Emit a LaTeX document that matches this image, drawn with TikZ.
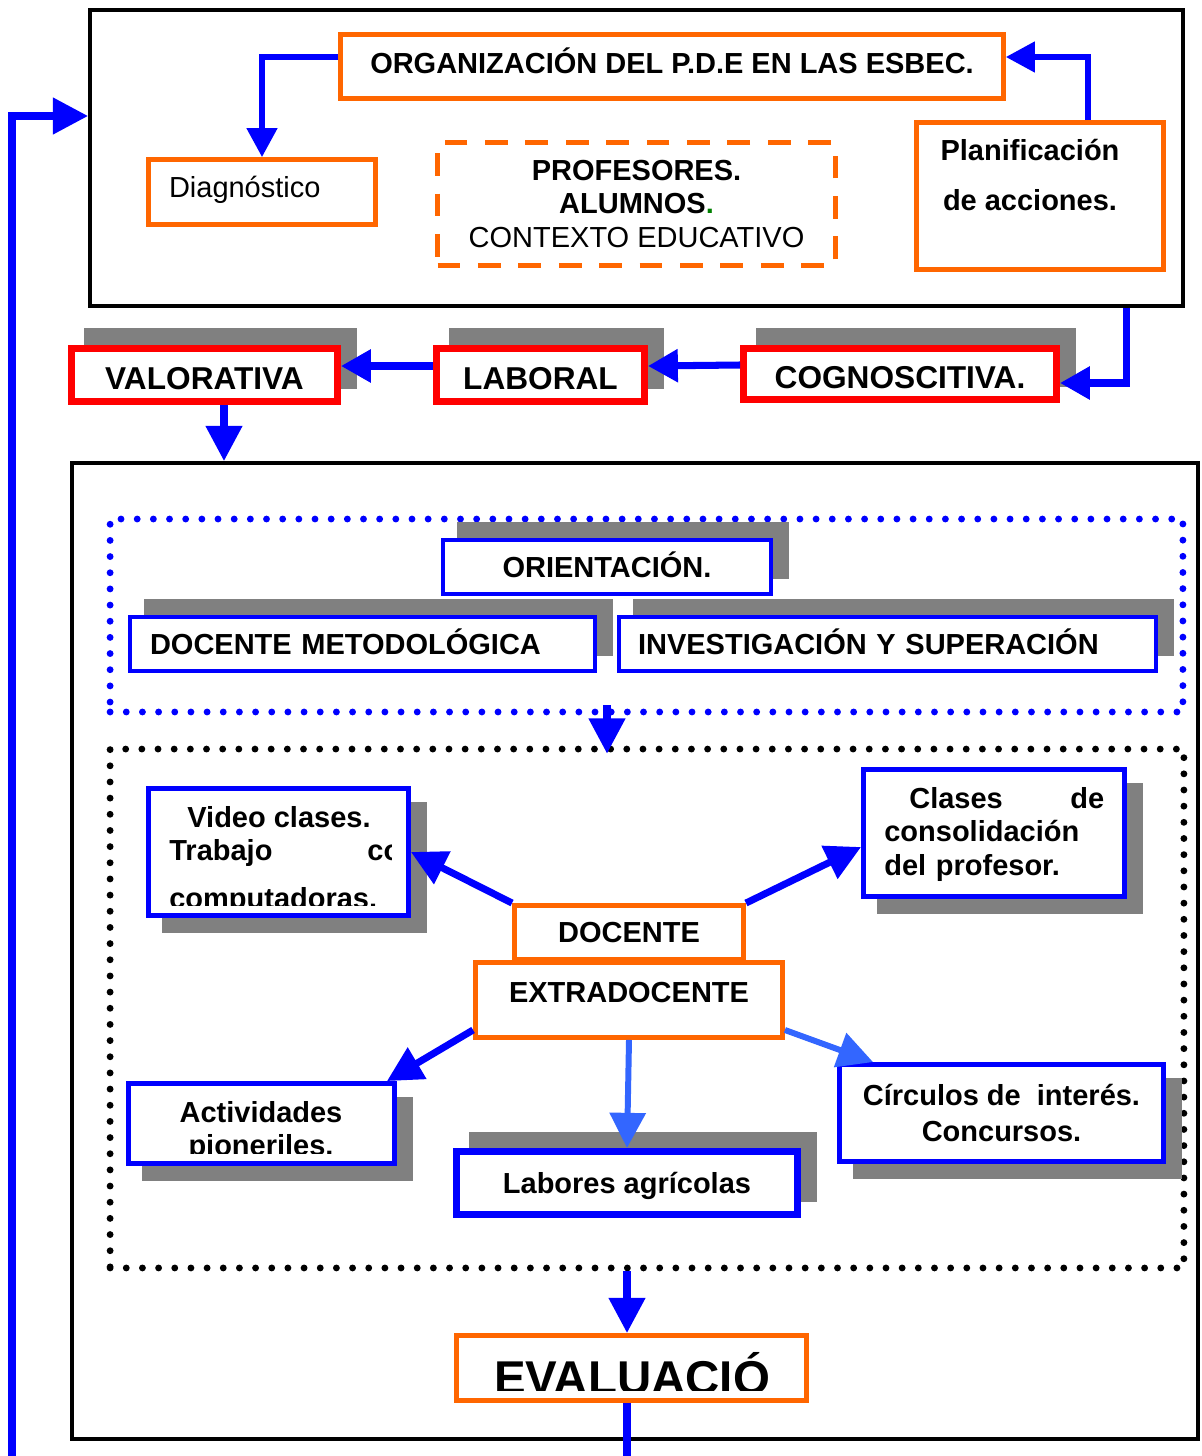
\documentclass[tikz,border=0pt]{standalone}
\usepackage{fontspec}
\setmainfont{Liberation Sans}
\usetikzlibrary{positioning, shadows, arrows.meta}
\newcommand{\naranja}{red!60!yellow}
\definecolor{azulclaro}{HTML}{3366FF}
\newcommand{\letra}{\fontsize{16.5}{19}\selectfont}
\tikzset{
	marco/.style={draw=black, line width=2.3pt, inner sep=0pt},
	sombra arriba/.style={drop shadow={shadow xshift=0.32cm, shadow yshift=0.33cm, opacity=1, fill=gray, draw=gray}},
	sombra abajo/.style={drop shadow={shadow xshift=0.32cm, shadow yshift=-0.31cm, opacity=1, fill=gray, draw=gray}},
	caja naranja/.style={draw=\naranja, line width=2.8pt, fill=white, inner sep=0pt, font=\letra\bfseries, text height=11.8pt, text depth=0pt},
	caja roja/.style={draw=red, line width=4pt, fill=white, inner sep=0pt, font=\fontsize{18}{21}\selectfont\bfseries, text height=16.9pt, text depth=0pt, sombra arriba},
	caja azul/.style={draw=blue, line width=2pt, fill=white, inner sep=0pt, font=\letra\bfseries, text height=11.8pt, text depth=0pt, sombra arriba},
	caja abajo/.style={draw=blue, line width=2.8pt, fill=white, inner sep=0pt, font=\letra\bfseries, sombra abajo},
	punteado/.style={line width=3.9pt, line cap=round, dash pattern=on 0pt off 9.2pt, inner sep=0pt},
	texto/.style={inner sep=0pt, font=\letra\bfseries},
	flecha/.style={draw=blue, line width=4pt, -{Triangle[length=20pt, width=20pt]}},
	flechita/.style={draw=blue, line width=3pt, -{Triangle[length=16.5pt, width=17pt]}},
}

\begin{document}
\begin{tikzpicture}[x=0.02cm, y=-0.02cm, font=\letra]
	\useasboundingbox (0,0) rectangle (1202,1456);
	
	% bloque de organizacion
	\node[marco, minimum width=21.86cm, minimum height=5.92cm] (arriba) at (636.5,158) {};
	\node[caja naranja, minimum width=13.26cm, minimum height=1.28cm, text depth=4pt] (org) at (672,66.5) {ORGANIZACIÓN DEL P.D.E EN LAS ESBEC.};
	\node[caja naranja, minimum width=4.54cm, minimum height=1.3cm, text width=3.72cm, align=left, font=\letra, text depth=5pt] (diag) at (262,192) {Diagnóstico};
	\node[draw=\naranja, line width=2.8pt, dash pattern=on 13pt off 10pt, inner sep=0pt, minimum width=7.96cm, minimum height=2.46cm, align=center, font=\letra\bfseries] (actores) at (636.5,204) {PROFESORES.\\ALUMNOS\textcolor{green!50!black}{.}\\{\mdseries CONTEXTO EDUCATIVO}};
	\node[caja naranja, minimum width=4.94cm, minimum height=2.94cm] (plan) at (1040,196) {};
	\node[texto, align=center, font=\fontsize{16.5}{29}\selectfont\bfseries] (plantxt) at (1030,175) {Planificación\\de acciones.};
	
	% dimensiones
	\node[caja roja, minimum width=5.32cm, minimum height=1.06cm] (valorativa) at (204.5,375) {VALORATIVA};
	\node[caja roja, minimum width=4.16cm, minimum height=1.06cm] (laboral) at (540.5,375) {LABORAL};
	\node[caja roja, minimum width=6.26cm, minimum height=1.02cm] (cognoscitiva) at (900,374) {COGNOSCITIVA.};
	
	% bloque inferior
	\node[marco, minimum width=22.52cm, minimum height=19.52cm] (abajo) at (635,951) {};
	\node[punteado, draw=blue, minimum width=21.46cm, minimum height=3.86cm] (grupo) at (646.5,615.5) {};
	\node[caja azul, minimum width=6.56cm, minimum height=1.08cm] (orientacion) at (607,567) {ORIENTACIÓN.};
	\node[caja azul, minimum width=9.3cm, minimum height=1.08cm, text width=8.5cm, align=left] (metodologica) at (362.5,644) {DOCENTE METODOLÓGICA};
	\node[caja azul, minimum width=10.74cm, minimum height=1.08cm, text width=9.98cm, align=left] (investigacion) at (887.5,644) {INVESTIGACIÓN Y SUPERACIÓN};
	
	\node[punteado, draw=black, minimum width=21.48cm, minimum height=10.38cm] (actividades) at (647,1008.5) {};
	\node[caja abajo, minimum width=5.2cm, minimum height=2.54cm] (video) at (278.5,852) {};
	\node[caja abajo, minimum width=5.22cm, minimum height=2.54cm] (clases) at (994,833) {};
	\node[texto, anchor=north west, text width=4.4cm, align=left] (clasestxt) at (884,787) {\hspace*{0.5cm}Clases\hfill de\\consolidación\\del profesor.};
	\node[caja naranja, minimum width=4.58cm, minimum height=1.08cm] (docente) at (629,932.5) {DOCENTE};
	\node[caja naranja, minimum width=6.14cm, minimum height=1.5cm, text depth=8.5pt] (extradocente) at (629,1000) {EXTRADOCENTE};
	\node[caja abajo, minimum width=5.32cm, minimum height=1.6cm] (pioneriles) at (261.5,1123.5) {};
	\node[caja azul, line width=4pt, minimum width=6.82cm, minimum height=1.26cm] (labores) at (627,1183) {Labores agrícolas};
	\node[caja abajo, minimum width=6.48cm, minimum height=1.94cm, align=center, font=\fontsize{16.5}{20}\selectfont\bfseries] (circulos) at (1001.5,1113) {Círculos de\ \ interés.\\Concursos.};
	\node[caja naranja, minimum width=7cm, minimum height=1.3cm] (evaluacion) at (631.5,1368) {};
	
	% textos cortados
	\begin{scope}
		\clip (150,790) rectangle (391,905);
		\node[texto, anchor=base] (videotxt) at (279,827) {Video clases.};
		\node[texto, anchor=base west] (trabajotxt) at (169,860) {Trabajo\hspace{1.9cm}con};
		\node[texto, anchor=base west] (compatxt) at (169,908) {computadoras.};
	\end{scope}
	\begin{scope}
		\clip (130,1085) rectangle (393,1153);
		\node[texto, anchor=base] (acttxt) at (261,1122) {Actividades};
		\node[texto, anchor=base] (piontxt) at (261,1155) {pioneriles.};
	\end{scope}
	\begin{scope}
		\clip (458,1337) rectangle (805,1390);
		\node[texto, anchor=base, font=\fontsize{27}{30}\selectfont\bfseries] (evaltxt) at (632,1394) {EVALUACIÓ};
	\end{scope}
	
	% flechas
	\coordinate (bajada) at (1126,0);
	\coordinate (entrada) at (0,116);
	\coordinate (retorno) at (12,1456);
	\coordinate (salida) at (627,1456);
	\coordinate (bajval) at ([xshift=0.39cm]valorativa.south);
	\draw[flechita] ([yshift=0.19cm]org.west) -| (diag.north);
	\draw[flechita] ([xshift=0.96cm]plan.north) |- ([yshift=0.19cm]org.east);
	\draw[flecha, -{Triangle[length=17pt, width=18pt]}] (arriba.south -| bajada) |- ([yshift=-0.18cm]cognoscitiva.east);
	\draw[flecha, -{Triangle[length=17pt, width=18pt]}] ([yshift=0.18cm]cognoscitiva.west) -- ([yshift=0.18cm]laboral.east);
	\draw[flecha, -{Triangle[length=17pt, width=18pt]}] ([yshift=0.18cm]laboral.west) -- ([yshift=0.18cm]valorativa.east);
	\draw[flecha] (bajval) -- (bajval |- abajo.north);
	\draw[flecha] (retorno) |- (arriba.west |- entrada);
	\draw[flecha] ([yshift=0.2cm]grupo.south -| orientacion) -- ([yshift=-0.16cm]actividades.north -| orientacion);
	\draw[flecha] (docente.north west) -- (video.east);
	\draw[flecha] (docente.north east) -- ([yshift=-0.28cm]clases.west);
	\draw[flecha] ([yshift=-0.6cm]extradocente.west) -- ([xshift=-0.2cm]pioneriles.north east);
	\draw[flecha, draw=azulclaro, line width=3.4pt] (extradocente.south) -- (labores.north);
	\draw[flecha, draw=azulclaro, line width=3.4pt] ([yshift=-0.6cm]extradocente.east) -- ([xshift=0.72cm]circulos.north west);
	\draw[flecha] (actividades.south -| labores) -- (evaluacion.north -| labores);
	\draw[draw=blue, line width=4pt] (evaluacion.south -| salida) -- (salida);
\end{tikzpicture}
\end{document}
